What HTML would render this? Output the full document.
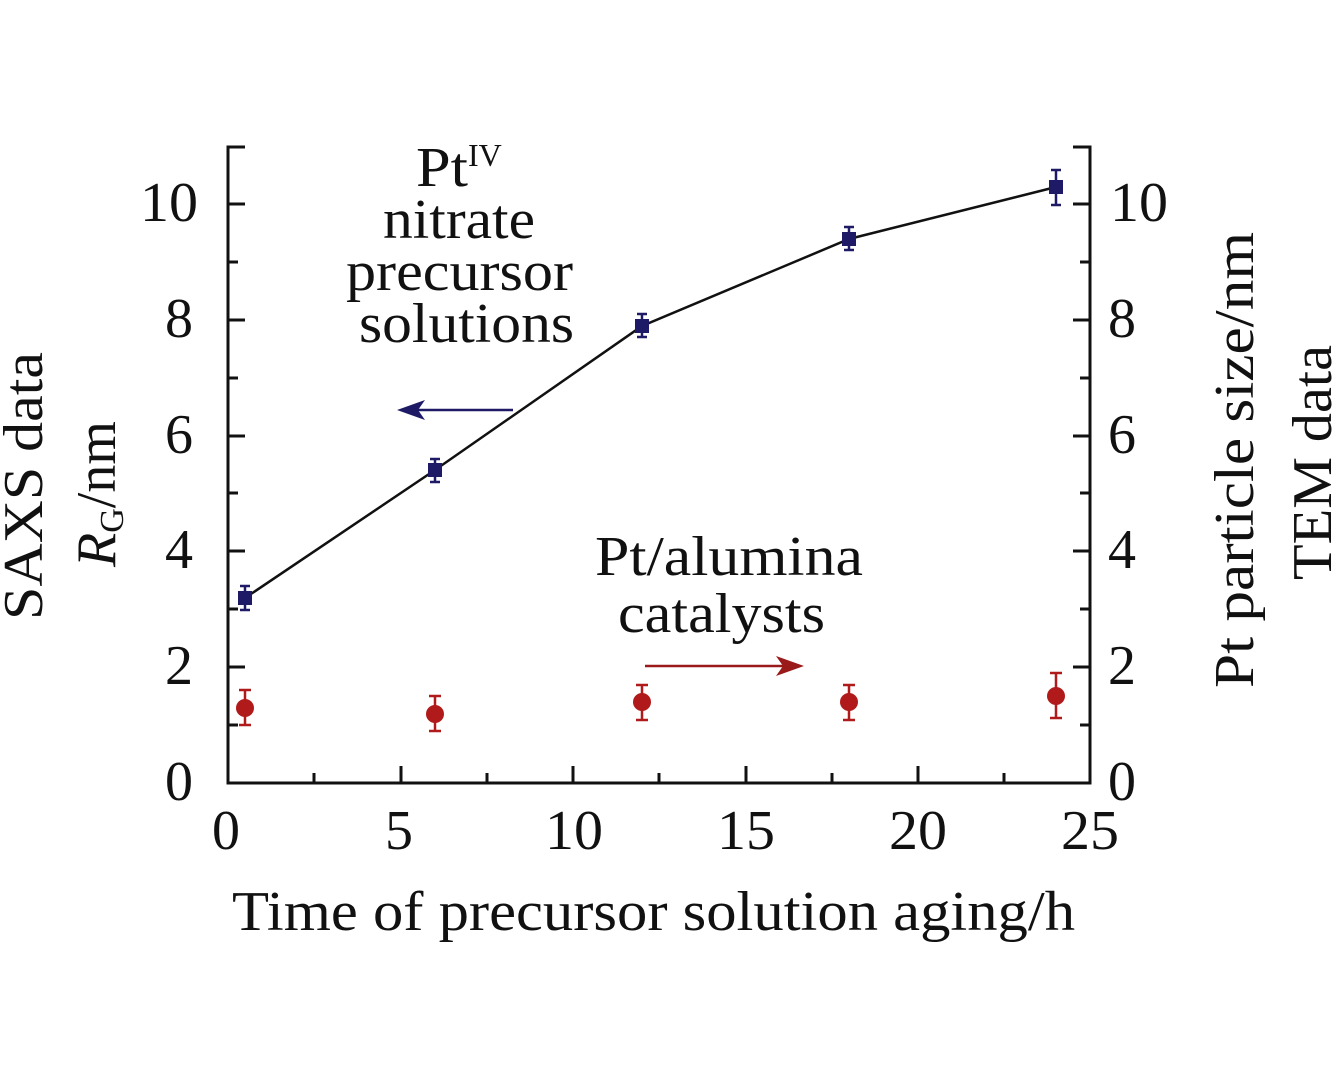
<!DOCTYPE html>
<html><head><style>body{margin:0;background:#fff}svg{display:block}text{font-family:"Liberation Serif",serif;fill:#111}</style></head>
<body>
<svg width="1333" height="1085" viewBox="0 0 1333 1085" xmlns="http://www.w3.org/2000/svg">
<g stroke="#111" stroke-width="3" fill="none">
<polyline points="245,147 228,147 228,783 1090,783 1090,147 1073,147"/>
<path d="M401,783v-17M573,783v-17M746,783v-17M918,783v-17M314,783v-10M487,783v-10M659,783v-10M832,783v-10M1004,783v-10"/>
<path d="M228,667h17M228,551h17M228,436h17M228,320h17M228,204h17M228,725h10M228,609h10M228,493h10M228,378h10M228,262h10"/>
<path d="M1090,667h-17M1090,551h-17M1090,436h-17M1090,320h-17M1090,204h-17M1090,725h-10M1090,609h-10M1090,493h-10M1090,378h-10M1090,262h-10"/>
</g>
<polyline points="245,598 435,470 642,326 849,239 1056,187" fill="none" stroke="#111" stroke-width="2.5"/>
<g stroke="#1e1a66" stroke-width="2.5" fill="#1e1a66">
<path d="M245,586v24M240,586h10M240,610h10M435,459v23M430,459h10M430,482h10M642,314v23M637,314h10M637,337h10M849,227v23M844,227h10M844,250h10M1056,170v35M1051,170h10M1051,205h10"/>
<rect x="238" y="591" width="14" height="14" stroke="none"/>
<rect x="428" y="463" width="14" height="14" stroke="none"/>
<rect x="635" y="319" width="14" height="14" stroke="none"/>
<rect x="842" y="232" width="14" height="14" stroke="none"/>
<rect x="1049" y="180" width="14" height="14" stroke="none"/>
</g>
<g stroke="#b01a1a" stroke-width="2.5" fill="#b01a1a">
<path d="M245,690v35M239,690h12M239,725h12M435,696v35M429,696h12M429,731h12M642,685v35M636,685h12M636,720h12M849,685v35M843,685h12M843,720h12M1056,673v45M1050,673h12M1050,718h12"/>
<circle cx="245" cy="708" r="9" stroke="none"/><circle cx="435" cy="714" r="9" stroke="none"/><circle cx="642" cy="702" r="9" stroke="none"/><circle cx="849" cy="702" r="9" stroke="none"/><circle cx="1056" cy="696" r="9" stroke="none"/>
</g>
<line x1="513" y1="410" x2="410" y2="410" stroke="#1e1a66" stroke-width="2.5"/>
<path d="M397,410 L425,400 L418,410 L425,420Z" fill="#1e1a66"/>
<line x1="645" y1="666" x2="790" y2="666" stroke="#9a1a1a" stroke-width="2.5"/>
<path d="M804,666 L776,656 L783,666 L776,676Z" fill="#9a1a1a"/>
<g font-size="56">
<text x="165" y="800">0</text><text x="165" y="684">2</text><text x="165" y="568">4</text><text x="165" y="453">6</text><text x="165" y="337">8</text><text x="140" y="221" textLength="58" lengthAdjust="spacingAndGlyphs">10</text>
<text x="1108" y="800">0</text><text x="1108" y="684">2</text><text x="1108" y="568">4</text><text x="1108" y="453">6</text><text x="1108" y="337">8</text><text x="1110" y="221" textLength="58" lengthAdjust="spacingAndGlyphs">10</text>
<text x="212" y="849">0</text><text x="385" y="849">5</text><text x="545" y="849" textLength="58" lengthAdjust="spacingAndGlyphs">10</text><text x="717" y="849" textLength="58" lengthAdjust="spacingAndGlyphs">15</text><text x="889" y="849" textLength="58" lengthAdjust="spacingAndGlyphs">20</text><text x="1061" y="849" textLength="58" lengthAdjust="spacingAndGlyphs">25</text>
<text x="232" y="930" textLength="843" lengthAdjust="spacingAndGlyphs">Time of precursor solution aging/h</text>
<text x="416" y="186" textLength="52" lengthAdjust="spacingAndGlyphs">Pt</text><text x="468" y="166" font-size="32">IV</text>
<text x="383" y="238" textLength="152" lengthAdjust="spacingAndGlyphs">nitrate</text>
<text x="346" y="290" textLength="227" lengthAdjust="spacingAndGlyphs">precursor</text>
<text x="359" y="342" textLength="215" lengthAdjust="spacingAndGlyphs">solutions</text>
<text x="595" y="575" textLength="268" lengthAdjust="spacingAndGlyphs">Pt/alumina</text>
<text x="618" y="632" textLength="207" lengthAdjust="spacingAndGlyphs">catalysts</text>
<text transform="translate(42,620) rotate(-90)" textLength="268" lengthAdjust="spacingAndGlyphs">SAXS data</text>
<text transform="translate(115,567) rotate(-90)"><tspan font-style="italic">R</tspan><tspan font-size="34" dy="8">G</tspan><tspan dy="-8">/nm</tspan></text>
<text transform="translate(1253,688) rotate(-90)" textLength="456" lengthAdjust="spacingAndGlyphs">Pt particle size/nm</text>
<text transform="translate(1331,580) rotate(-90)" textLength="235" lengthAdjust="spacingAndGlyphs">TEM data</text>
</g>
</svg>
</body></html>
